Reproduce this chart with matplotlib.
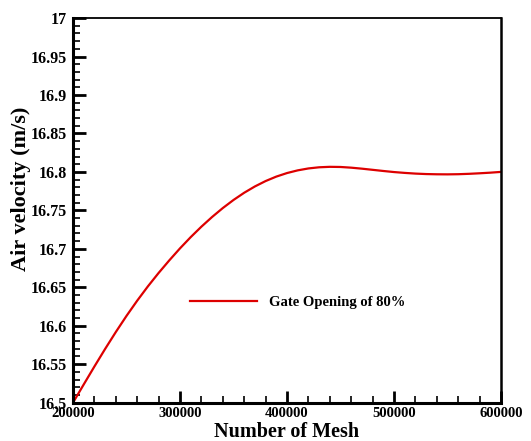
import matplotlib
matplotlib.use('Agg')
import matplotlib.pyplot as plt
from matplotlib.ticker import MultipleLocator

plt.rcParams['font.family'] = ['Liberation Serif', 'DejaVu Serif']
plt.rcParams['font.weight'] = 'bold'

# valores
mesh = [200000, 210000, 220000, 230000, 240000, 250000, 260000, 270000,
        280000, 290000, 300000, 310000, 320000, 330000, 340000, 350000,
        360000, 370000, 380000, 390000, 400000, 410000, 420000, 430000,
        440000, 450000, 460000, 470000, 480000, 490000, 500000, 510000,
        520000, 530000, 540000, 550000, 560000, 570000, 580000, 590000,
        600000]
velocity = [16.5000, 16.5236, 16.5470, 16.5698, 16.5918, 16.6128, 16.6326,
            16.6512, 16.6686, 16.6850, 16.7006, 16.7152, 16.7288, 16.7414,
            16.7530, 16.7635, 16.7729, 16.7811, 16.7881, 16.7939, 16.7985,
            16.8020, 16.8045, 16.8060, 16.8066, 16.8064, 16.8055, 16.8042,
            16.8027, 16.8012, 16.7998, 16.7987, 16.7978, 16.7972, 16.7969,
            16.7968, 16.7970, 16.7975, 16.7982, 16.7990, 16.8000]
serie = 'Gate Opening of 80%'

xticks = [200000, 300000, 400000, 500000, 600000]
yticks = [16.5, 16.55, 16.6, 16.65, 16.7, 16.75, 16.8, 16.85, 16.9, 16.95, 17]
ylabels = ['16.5', '16.55', '16.6', '16.65', '16.7', '16.75', '16.8',
           '16.85', '16.9', '16.95', '17']

fig = plt.figure(figsize=(5.31, 4.41), dpi=100)
ax = fig.add_axes([0.1375, 0.087, 0.806, 0.872])

ax.plot(mesh, velocity, color='#dd0000', linewidth=1.6, label=serie)

ax.set_xlim(200000, 600000)
ax.set_ylim(16.5, 17)
ax.set_xticks(xticks)
ax.set_xticklabels([str(v) for v in xticks])
ax.set_yticks(yticks)
ax.set_yticklabels(ylabels)
ax.xaxis.set_minor_locator(MultipleLocator(20000))
ax.yaxis.set_minor_locator(MultipleLocator(0.01))

ax.tick_params(which='major', direction='in', length=9, width=2,
               top=False, right=False)
ax.tick_params(which='minor', direction='in', length=5, width=1.2,
               top=False, right=False)
ax.tick_params(axis='x', which='major', labelsize=10.5, pad=3.5)
ax.tick_params(axis='y', which='major', labelsize=11.5, pad=4.5)
for lbl in ax.get_xticklabels() + ax.get_yticklabels():
    lbl.set_fontweight('bold')

ax.spines['left'].set_linewidth(2.2)
ax.spines['bottom'].set_linewidth(2.2)
ax.spines['top'].set_linewidth(1.3)
ax.spines['right'].set_linewidth(1.8)

ax.set_xlabel('Number of Mesh', fontsize=14.5, fontweight='bold', labelpad=1)
ax.set_ylabel('Air velocity (m/s)', fontsize=16, fontweight='bold')
ax.yaxis.set_label_coords(-0.097, 0.555)

ax.legend(loc='center left', bbox_to_anchor=(0.273, 0.261), frameon=False,
          handlelength=4.6, handletextpad=0.85,
          borderpad=0, borderaxespad=0, prop={'weight': 'bold', 'size': 10.5})

fig.savefig('out.png', dpi=100)
